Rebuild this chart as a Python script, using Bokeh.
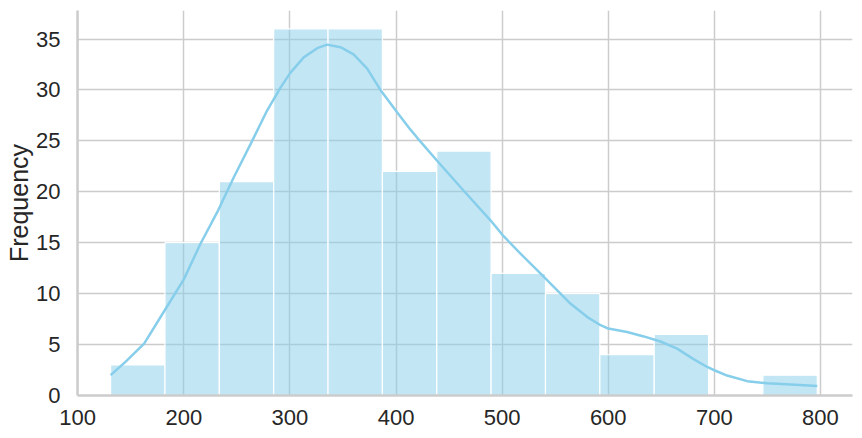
import numpy as np
from bokeh.plotting import figure
from bokeh.models import Range1d, FixedTicker
from bokeh.embed import file_html
from bokeh.resources import INLINE

# Histogram data
data_min = 131.0
data_max = 797.0
n_bins = 13
counts = [3, 15, 21, 36, 36, 22, 24, 12, 10, 4, 6, 0, 2]

# KDE curve (count scale)
kde_x = [131, 145, 162.6, 181, 200, 215.7, 231.5, 247, 263, 278.6, 291, 300.5,
         313, 325.7, 335, 347.6, 360, 372.8, 385.3, 401, 413.6, 420, 438.7,
         463.8, 489, 500, 517.5, 536.3, 548.9, 564.6, 580.3, 592.8, 600, 617.8,
         633.5, 649.2, 664.9, 680, 693.3, 700, 712, 731, 750, 772, 797]
kde_y = [2.0, 3.3, 5.1, 8.2, 11.4, 14.9, 18.0, 21.4, 24.7, 28.0, 30.2, 31.7,
         33.2, 34.1, 34.45, 34.2, 33.5, 32.1, 30.0, 27.8, 26.1, 25.3, 23.05,
         20.1, 17.2, 15.8, 13.9, 11.96, 10.65, 9.0, 7.7, 6.9, 6.57, 6.24,
         5.8, 5.3, 4.6, 3.6, 2.8, 2.48, 1.96, 1.41, 1.2, 1.08, 0.94]

x_ticks = [100, 200, 300, 400, 500, 600, 700, 800]
y_ticks = [0, 5, 10, 15, 20, 25, 30, 35]
y_label = "Frequency"

edges = np.linspace(data_min, data_max, n_bins + 1)

p = figure(width=854, height=429, output_backend="svg", toolbar_location=None,
           x_range=Range1d(99.8, 830.2), y_range=Range1d(0, 37.8),
           min_border_left=77, min_border_right=2, min_border_top=10,
           min_border_bottom=34)
p.background_fill_color = "white"
p.border_fill_color = "white"
p.outline_line_color = None

p.quad(left=edges[:-1], right=edges[1:], bottom=0, top=counts,
       fill_color="skyblue", fill_alpha=0.5, line_color="white", line_width=1.2)
p.line(kde_x, kde_y, line_color="skyblue", line_width=2.5)

for ax in (p.xaxis, p.yaxis):
    ax.axis_line_color = "#cccccc"
    ax.axis_line_width = 2.5
    ax.major_tick_line_color = None
    ax.minor_tick_line_color = None
    ax.major_label_text_font = "Liberation Sans"
    ax.major_label_text_font_size = "22px"
    ax.major_label_text_color = "#262626"

p.xaxis.ticker = FixedTicker(ticks=x_ticks)
p.yaxis.ticker = FixedTicker(ticks=y_ticks)
p.xaxis.major_label_standoff = 8
p.yaxis.major_label_standoff = 11
p.yaxis.axis_label = y_label
p.yaxis.axis_label_text_font = "Liberation Sans"
p.yaxis.axis_label_text_font_size = "25px"
p.yaxis.axis_label_text_font_style = "normal"
p.yaxis.axis_label_text_color = "#262626"
p.yaxis.axis_label_text_line_height = 1.0
p.yaxis.axis_label_standoff = 0

p.xgrid.ticker = FixedTicker(ticks=x_ticks)
p.ygrid.ticker = FixedTicker(ticks=y_ticks)
for g in (p.xgrid, p.ygrid):
    g.grid_line_color = "#cccccc"
    g.grid_line_width = 1.5

open("out.html", "w").write(file_html(p, INLINE))
